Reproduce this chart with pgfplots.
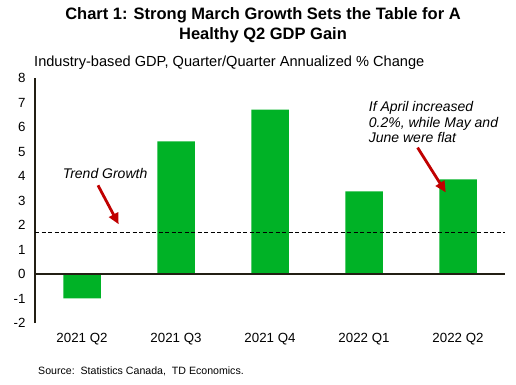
\documentclass[border=0pt]{standalone}
\usepackage{pgfplots}
\pgfplotsset{compat=1.18}
\usepackage{fontspec}
\setmainfont{Liberation Sans}
\usetikzlibrary{arrows.meta}
\definecolor{bargreen}{RGB}{0,178,38}
\definecolor{arrowred}{RGB}{192,0,0}
\definecolor{axisdark}{RGB}{35,31,20}
\begin{document}
\begin{tikzpicture}[x=1pt,y=1pt]
\path[use as bounding box] (0,0) rectangle (516,384);
\node[font=\fontsize{16.5}{20}\selectfont\bfseries, align=center] at (263,359) {Chart 1: Strong March Growth Sets the Table for A\\Healthy Q2 GDP Gain};
\node[font=\fontsize{14.6}{17}\selectfont, anchor=west, inner sep=0] at (34,321) {Industry-based GDP, Quarter/Quarter Annualized \% Change};
\node[font=\fontsize{10.6}{12}\selectfont, anchor=west, inner sep=0] at (38,13) {Source:\ \ Statistics Canada,\ \ TD Economics.};
\begin{axis}[
  at={(35pt,61pt)}, anchor=south west,
  scale only axis, width=470pt, height=245pt,
  xmin=-0.5, xmax=4.5, ymin=-2, ymax=8,
  axis lines=left,
  axis line style={-},
  x axis line style={draw=none},
  y axis line style={line width=1.6pt, axisdark},
  major tick length=0pt,
  xtick={0,1,2,3,4},
  xticklabels={2021 Q2,2021 Q3,2021 Q4,2022 Q1,2022 Q2},
  ytick={-2,-1,0,1,2,3,4,5,6,7,8},
  yticklabels={-2,-1,0,1,2,3,4,5,6,7,8},
  tick label style={font=\fontsize{13.3}{15}\selectfont, text=black},
  xticklabel style={yshift=-7pt},
  yticklabel style={xshift=-6pt},
  clip=false,
]
\addplot[ybar, bar width=37.5pt, fill=bargreen, draw=none, bar shift=0pt]
  coordinates {(0,-0.99) (1,5.41) (2,6.71) (3,3.37) (4,3.86)};
\addplot[black, line width=0.8pt, dash pattern=on 4pt off 2.5pt]
  coordinates {(-0.5,1.7) (4.5,1.7)};
\draw[line width=1.6pt, axisdark] (axis cs:-0.5,0) -- (axis cs:4.5,0);
\node[font=\fontsize{14}{16}\selectfont\itshape] at (axis cs:0.245,4.1) {Trend Growth};
\draw[arrowred, line width=2.8pt, -{Triangle[length=11pt,width=10pt]}] (axis cs:0.17,3.62) -- (axis cs:0.39,2.03);
\node[font=\fontsize{14}{15.5}\selectfont\itshape, align=left, anchor=north west, inner sep=0] at (axis cs:3.05,7.05) {If April increased\\0.2\%, while May and\\June were flat};
\draw[arrowred, line width=2.8pt, -{Triangle[length=11pt,width=10pt]}] (axis cs:3.57,5.16) -- (axis cs:3.87,3.33);
\end{axis}
\end{tikzpicture}
\end{document}
